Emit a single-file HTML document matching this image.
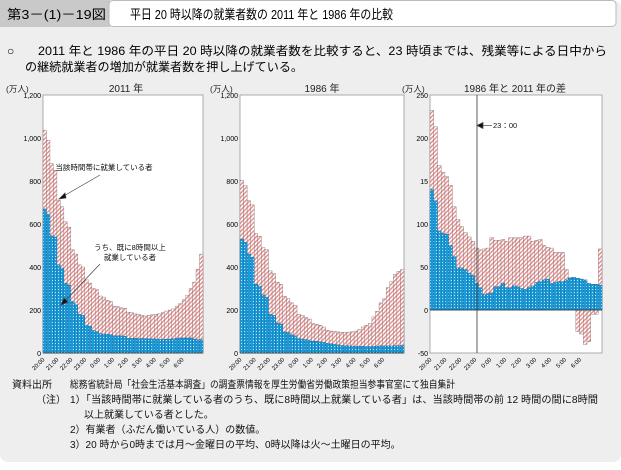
<!DOCTYPE html>
<html><head><meta charset="utf-8">
<style>
html,body{margin:0;padding:0;background:#fff;}
body{width:621px;height:465px;overflow:hidden;font-family:"Liberation Sans","Noto Sans CJK JP",sans-serif;}
svg text{font-family:"Liberation Sans","Noto Sans CJK JP",sans-serif;}
</style></head><body>
<svg id="s" width="621" height="465" viewBox="0 0 621 465" xmlns="http://www.w3.org/2000/svg">
<defs>
<pattern id="pk" width="3" height="3" patternUnits="userSpaceOnUse" patternTransform="rotate(45)">
<rect width="3" height="3" fill="#fff"/><rect width="1.4" height="3" fill="#e98a8a"/></pattern>
<pattern id="bl" width="3" height="3" patternUnits="userSpaceOnUse">
<rect width="3" height="3" fill="#1b9ad8"/><rect x="1" y="1" width="1" height="1" fill="#bfe6f7"/></pattern>
</defs>
<rect x="0" y="0" width="621" height="462" rx="8" fill="#eeeeee"/>
<rect x="0" y="0" width="110" height="27" fill="#c9c9c9"/>
<rect x="109" y="0.5" width="507" height="26" rx="4" fill="#fff" stroke="#bbb"/>
<text x="7" y="19" font-size="13" textLength="99" lengthAdjust="spacingAndGlyphs">第3－(1)－19図</text>
<text x="130" y="19" font-size="13" textLength="263" lengthAdjust="spacingAndGlyphs">平日 20 時以降の就業者数の 2011 年と 1986 年の比較</text>
<text x="7" y="55" font-size="12">○</text>
<text x="38" y="55" font-size="12" textLength="569" lengthAdjust="spacingAndGlyphs">2011 年と 1986 年の平日 20 時以降の就業者数を比較すると、23 時頃までは、残業等による日中から</text>
<text x="25" y="71" font-size="12" textLength="278" lengthAdjust="spacingAndGlyphs">の継続就業者の増加が就業者数を押し上げている。</text>
<g font-size="8.5" fill="#222">
<text x="6" y="92">(万人)</text><text x="126" y="92" text-anchor="middle" font-size="10">2011 年</text>
<text x="210" y="92">(万人)</text><text x="322" y="92" text-anchor="middle" font-size="10">1986 年</text>
<text x="402" y="92">(万人)</text><text x="515" y="92" text-anchor="middle" font-size="10">1986 年と 2011 年の差</text>
</g>
<g id="charts"></g>
<g font-size="7.5" fill="#111">
<text x="104" y="170" text-anchor="middle">当該時間帯に就業している者</text>
<text x="130" y="250" text-anchor="middle">うち、既に8時間以上</text>
<text x="130" y="260" text-anchor="middle">就業している者</text>
<text x="493" y="128">23：00</text>
</g>
<g stroke="#444" stroke-width="0.7" fill="#111">
<line x1="100" y1="175" x2="62" y2="197"/><polygon points="59,199 65,193 66,198"/>
<line x1="100" y1="264" x2="64" y2="302"/><polygon points="61,305 64,298 68,302"/>
<line x1="492" y1="125.5" x2="481" y2="125.5"/><polygon points="477,125.5 483,122.5 483,128.5"/>
</g>
<g font-size="10" fill="#111">
<text x="12" y="388">資料出所</text>
<text x="70" y="388" textLength="385" lengthAdjust="spacingAndGlyphs">総務省統計局「社会生活基本調査」の調査票情報を厚生労働省労働政策担当参事官室にて独自集計</text>
<text x="36" y="403">（注）</text>
<text x="70" y="403" textLength="528" lengthAdjust="spacingAndGlyphs">1）「当該時間帯に就業している者のうち、既に8時間以上就業している者」は、当該時間帯の前 12 時間の間に8時間</text>
<text x="84" y="418">以上就業している者とした。</text>
<text x="70" y="433">2）有業者（ふだん働いている人）の数値。</text>
<text x="70" y="448">3）20 時から0時までは月～金曜日の平均、0時以降は火～土曜日の平均。</text>
</g>
</svg>
<script>
function fix(a,n){a=a.slice(0,n);while(a.length<n)a.push(a[a.length-1]);return a;}
var N=46;
var t11=fix([1035,990,880,850,710,680,610,585,480,460,410,400,340,325,300,295,265,260,245,240,218,215,210,208,190,188,182,180,175,172,175,178,180,182,188,195,200,205,218,230,248,268,300,330,390,460],N);
var b11=fix([670,645,545,540,410,395,325,315,240,225,180,175,130,125,105,100,90,88,88,85,80,80,80,78,68,68,68,67,67,67,66,66,65,63,63,64,65,66,68,70,70,70,70,65,62,62],N);
var t86=fix([804,779,708,689,556,543,490,481,382,369,329,320,264,253,233,222,180,176,165,158,137,134,129,121,106,102,100,98,96,96,97,99,102,109,121,129,137,168,194,233,253,304,331,366,380,388],N);
var b86=fix([530,515,460,445,320,310,270,260,180,175,140,135,98,95,85,80,66,65,62,60,55,55,52,50,45,43,40,38,35,34,33,32,31,31,31,30,30,31,32,33,33,33,33,34,34,35],N);
var td=fix([232,213,168,160,155,145,120,105,97,90,85,80,72,70,71,72,84,81,81,82,80,84,84,84,84,86,86,80,81,82,75,73,72,67,67,67,47,38,36,-25,-28,-40,-37,-5,-5,71],N);
var bd=fix([140,127,92,89,88,75,62,49,49,47,43,40,31,26,18,19,20,27,27,31,26,26,28,27,25,24,26,28,32,33,35,36,31,32,33,33,35,37,38,37,36,35,31,30,30,29],N);
var g=document.getElementById('charts'),h='';
var labs=['20:00','21:00','22:00','23:00','0:00','1:00','2:00','3:00','4:00','5:00','6:00'];
function panel(x0,x1,yT,yB,vmin,vmax,step,tot,blu,ticks){
 var sy=function(v){return yB-(v-vmin)*(yB-yT)/(vmax-vmin);};
 h+='<rect x="'+x0+'" y="'+yT+'" width="'+(x1-x0)+'" height="'+(yB-yT)+'" fill="#fff" stroke="#999" stroke-width="0.8"/>';
 var w=(x1-x0)/N,z=sy(0);
 for(var i=0;i<N;i++){var x=x0+i*w,v=tot[i],y=sy(v);
  h+='<rect x="'+x.toFixed(2)+'" y="'+Math.min(y,z).toFixed(2)+'" width="'+w.toFixed(2)+'" height="'+Math.abs(z-y).toFixed(2)+'" fill="url(#pk)" stroke="#777" stroke-width="0.4"/>';}
 for(var i=0;i<N;i++){var x=x0+i*w,y=sy(blu[i]);
  h+='<rect x="'+x.toFixed(2)+'" y="'+y.toFixed(2)+'" width="'+w.toFixed(2)+'" height="'+(z-y).toFixed(2)+'" fill="url(#bl)" stroke="#17649a" stroke-width="0.4"/>';}
 h+='<line x1="'+x0+'" x2="'+x1+'" y1="'+z+'" y2="'+z+'" stroke="#333" stroke-width="0.8"/>';
 for(var k=0;k<ticks.length;k++){var v=vmin+k*step;h+='<text x="'+(x0-2)+'" y="'+(sy(v)+3)+'" font-size="7" text-anchor="end">'+ticks[k]+'</text>';}
 for(var j=0;j<11;j++){var x=x0+j*4*w+2;h+='<text transform="translate('+x+','+(yB+7)+') rotate(-45)" font-size="6" text-anchor="end">'+labs[j]+'</text>';}
}
panel(43,203,95,353,0,1200,200,t11,b11,['0','200','400','600','800','1,000','1,200']);
panel(240,404,95,353,0,1200,200,t86,b86,['0','200','400','600','800','1,000','1,200']);
panel(430,602,95,353,-50,250,50,td,bd,['-50','0','50','100','15','200','250']);
h+='<line x1="477" x2="477" y1="95" y2="353" stroke="#333" stroke-width="0.8"/>';
g.innerHTML=h;
</script>
</body></html>
